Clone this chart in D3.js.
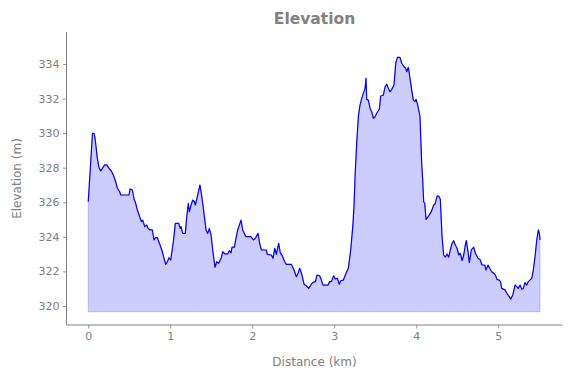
<!DOCTYPE html>
<html><head><meta charset="utf-8">
<script src="https://cdn.jsdelivr.net/npm/d3@7"></script>
<style>
body{margin:0;background:#fff;}
svg{display:block;font-family:"DejaVu Sans",sans-serif;}
</style></head>
<body><svg id="c" width="571" height="378"></svg>
<script>
const distanceKm = [0,0.052,0.071,0.083,0.111,0.132,0.152,0.172,0.201,0.226,0.254,0.282,0.306,0.335,0.355,0.384,0.396,0.498,0.510,0.538,0.559,0.579,0.599,0.620,0.648,0.665,0.689,0.713,0.729,0.754,0.782,0.802,0.823,0.843,0.876,0.904,0.924,0.945,0.965,0.985,1.006,1.038,1.062,1.104,1.120,1.132,1.152,1.184,1.201,1.221,1.233,1.254,1.274,1.294,1.306,1.335,1.363,1.388,1.409,1.437,1.457,1.477,1.498,1.518,1.546,1.567,1.591,1.620,1.640,1.668,1.701,1.721,1.741,1.754,1.782,1.802,1.823,1.843,1.863,1.884,1.924,1.985,2.013,2.038,2.071,2.091,2.111,2.172,2.184,2.233,2.254,2.274,2.294,2.323,2.343,2.363,2.396,2.416,2.477,2.510,2.538,2.559,2.579,2.607,2.632,2.660,2.689,2.721,2.741,2.770,2.790,2.823,2.843,2.863,2.924,2.945,2.965,2.994,3.013,3.038,3.062,3.079,3.111,3.144,3.172,3.201,3.226,3.241,3.254,3.274,3.294,3.315,3.335,3.355,3.376,3.388,3.396,3.416,3.437,3.457,3.477,3.498,3.518,3.550,3.567,3.599,3.620,3.640,3.660,3.680,3.701,3.729,3.750,3.770,3.802,3.823,3.851,3.872,3.884,3.904,3.924,3.945,3.965,3.985,3.998,4.018,4.038,4.046,4.067,4.079,4.091,4.104,4.120,4.152,4.184,4.213,4.233,4.254,4.274,4.294,4.315,4.335,4.355,4.376,4.396,4.416,4.437,4.457,4.477,4.498,4.518,4.538,4.559,4.579,4.599,4.611,4.632,4.648,4.672,4.701,4.721,4.754,4.782,4.802,4.835,4.851,4.876,4.896,4.921,4.945,4.965,4.985,5.013,5.028,5.043,5.083,5.111,5.135,5.152,5.177,5.205,5.226,5.245,5.266,5.287,5.306,5.327,5.348,5.367,5.409,5.428,5.449,5.470,5.490,5.502,5.510];
const elevationM = [326.03,329.99,329.98,329.72,328.54,328.00,327.81,327.96,328.16,328.16,327.96,327.81,327.58,327.19,326.81,326.61,326.42,326.42,326.77,326.71,326.19,325.94,325.55,325.26,324.88,324.97,324.59,324.68,324.49,324.40,324.40,323.82,323.95,323.95,323.53,323.14,322.76,322.41,322.56,322.79,322.66,323.72,324.78,324.78,324.49,324.59,324.20,324.20,325.16,325.94,325.45,325.84,326.13,326.03,325.84,326.42,327.00,326.23,325.45,324.40,324.20,324.49,324.11,323.24,322.24,322.56,322.47,322.76,323.14,323.01,323.01,323.20,323.08,323.40,323.40,323.92,324.40,324.68,324.97,324.40,324.01,324.01,323.82,323.92,324.20,323.63,323.24,323.24,322.99,322.95,322.76,323.34,322.99,323.63,323.05,322.95,322.56,322.41,322.41,322.08,321.69,321.89,322.18,321.79,321.26,321.17,321.02,321.26,321.37,321.41,321.79,321.75,321.50,321.21,321.21,321.41,321.41,321.75,321.56,321.60,321.26,321.46,321.50,321.89,322.18,323.24,324.59,325.74,327.48,329.41,330.95,331.63,332.01,332.30,332.59,333.17,331.95,331.91,331.43,331.24,330.86,330.95,331.15,331.38,332.15,332.20,332.68,332.84,332.59,332.39,332.53,332.78,334.04,334.38,334.38,334.04,333.84,333.75,333.55,333.81,333.17,332.49,331.91,331.82,331.95,331.63,331.15,330.95,328.25,327.29,326.03,325.94,325.01,325.21,325.45,325.84,325.94,326.36,326.36,326.17,324.01,322.95,322.82,323.01,322.82,323.24,323.63,323.78,323.53,323.34,322.95,323.05,322.62,322.95,323.53,323.78,323.14,322.50,323.24,323.40,323.05,322.76,322.66,322.37,322.37,322.08,322.37,322.18,321.98,321.89,321.79,321.54,321.50,321.41,321.02,320.93,320.69,320.54,320.39,320.64,321.21,321.12,321.02,321.21,320.97,321.02,321.35,321.21,321.41,321.60,322.08,322.85,323.82,324.40,324.20,323.82];
const fillBase = 319.67;
const xTicks = [0,1,2,3,4,5];
const yTicks = [320,322,324,326,328,330,332,334];
const titleText = "Elevation";
const xLabel = "Distance (km)";
const yLabel = "Elevation (m)";

const data = distanceKm.map((d,i)=>({x:d,y:elevationM[i]}));
const svg = d3.select("#c");
const L=66.5, R=562.5, T=32, B=325;
const gray = "#808080";
const x = d3.scaleLinear().domain([-0.265,5.784]).range([L,R]);
const y = d3.scaleLinear().domain([318.90,335.85]).range([B,T]);

const area = d3.area().x(d=>x(d.x)).y0(y(fillBase)).y1(d=>y(d.y));
svg.append("path").datum(data).attr("d",area)
  .attr("fill","rgba(0,0,255,0.2)").attr("stroke","rgba(0,0,255,0.2)").attr("stroke-width",1);
const line = d3.line().x(d=>x(d.x)).y(d=>y(d.y));
svg.append("path").datum(data).attr("d",line)
  .attr("fill","none").attr("stroke","#0000ff").attr("stroke-width",1.2).attr("stroke-linejoin","round");

const xa = svg.append("g").attr("transform",`translate(0,${B})`)
  .call(d3.axisBottom(x).tickValues(xTicks).tickFormat(d3.format("d")).tickSize(3.5).tickPadding(3.5).tickSizeOuter(0));
const ya = svg.append("g").attr("transform",`translate(${L},0)`)
  .call(d3.axisLeft(y).tickValues(yTicks).tickFormat(d3.format("d")).tickSize(3.5).tickPadding(3.5).tickSizeOuter(0));
[xa,ya].forEach(g=>{
  g.select(".domain").attr("stroke",gray).attr("stroke-width",1);
  g.selectAll(".tick line").attr("stroke",gray).attr("stroke-width",0.8);
  g.selectAll(".tick text").attr("fill",gray).attr("font-size",11).attr("font-family","DejaVu Sans");
});
ya.select(".domain").attr("d",`M0,${T}V${B}`);
xa.select(".domain").attr("d",`M${L},0H${R}`);

svg.append("text").attr("x",(L+R)/2).attr("y",24).attr("text-anchor","middle")
  .attr("font-size",15.5).attr("font-weight","bold").attr("fill",gray).text(titleText);
svg.append("text").attr("x",(L+R)/2).attr("y",366).attr("text-anchor","middle")
  .attr("font-size",12).attr("fill",gray).text(xLabel);
svg.append("text").attr("transform",`translate(21,${(T+B)/2}) rotate(-90)`).attr("text-anchor","middle")
  .attr("font-size",12).attr("fill",gray).text(yLabel);
</script></body></html>
